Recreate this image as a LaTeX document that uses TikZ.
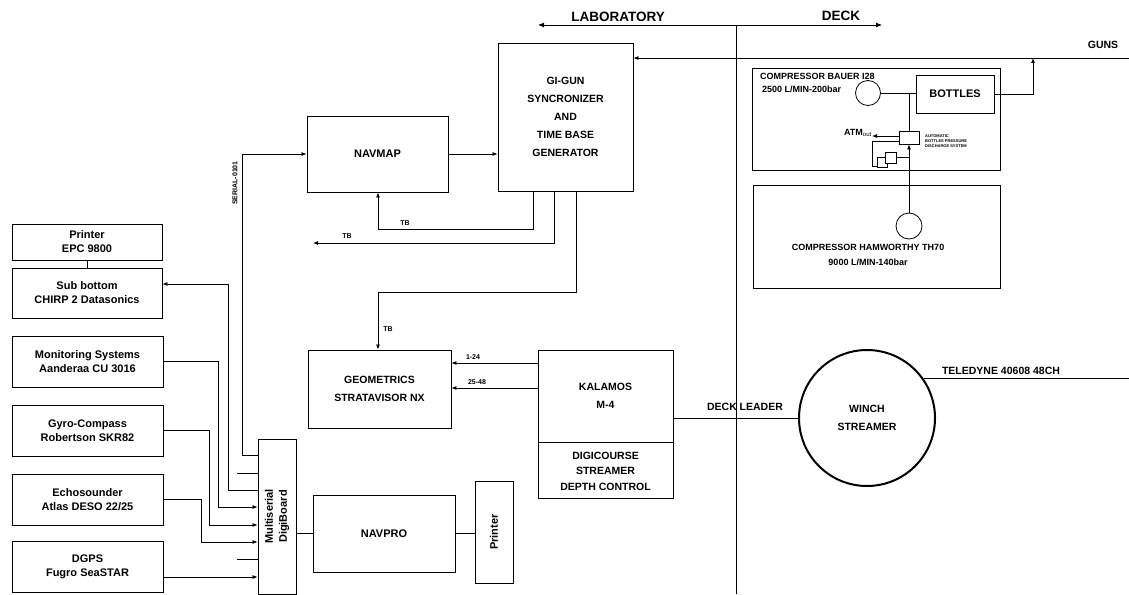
\documentclass[tikz,border=0pt]{standalone}
\usepackage{fontspec}
\setmainfont{Liberation Sans}
\usetikzlibrary{arrows.meta,positioning}

\begin{document}
\begin{tikzpicture}[x=1pt,y=-1pt,
  box/.style={draw,line width=0.9pt,inner sep=0pt,align=center,font=\bfseries\fontsize{11}{14}\selectfont},
  tall/.style={font=\bfseries\fontsize{10.5}{18}\selectfont},
  lbl/.style={inner sep=0pt,font=\bfseries\fontsize{7}{8}\selectfont},
  deck/.style={inner sep=0pt,align=center,font=\bfseries\fontsize{9}{15}\selectfont},
  big/.style={inner sep=0pt,font=\bfseries\fontsize{10.5}{12}\selectfont},
  wire/.style={line width=0.8pt},
  arr/.style={-{Latex[length=5pt,width=4pt]}}]
\useasboundingbox (0,0) rectangle (1129,594);

% laboratory / deck
\coordinate (labend) at (538,25);
\coordinate (deckend) at (882,25);
\coordinate (divtop) at (736,25);
\coordinate (divbot) at (736,594);
\draw[wire,{Latex[length=6pt,width=5pt]}-{Latex[length=6pt,width=5pt]}] (labend) -- (deckend);
\draw[wire] (divtop) -- (divbot);
\node[font=\bfseries\fontsize{13.5}{14}\selectfont] (lab) at (618,17) {LABORATORY};
\node[font=\bfseries\fontsize{13.5}{14}\selectfont] (deck) at (841,16) {DECK};

% left column
\node[box,minimum width=150,minimum height=36] (printer) at (87,242) {Printer\\EPC 9800};
\node[box,minimum width=150,minimum height=50] (subbot) at (87,293) {Sub bottom\\CHIRP 2 Datasonics};
\foreach \nm/\ypos/\txt in {monitor/361.5/{Monitoring Systems\\Aanderaa CU 3016},
    gyro/430.5/{Gyro-Compass\\Robertson SKR82},
    echo/499.5/{Echosounder\\Atlas DESO 22/25},
    dgps/567/{DGPS\\Fugro SeaSTAR}}
  { \node[box,minimum width=151,minimum height=51] (\nm) at (87.5,\ypos) {\txt}; }
\draw[wire] (printer) -- (subbot);

% digiboard, navpro
\node[box,minimum width=38,minimum height=155] (digi) at (277,516.5) {};
\node[box,draw=none,rotate=90] (digitxt) at (digi.center) {Multiserial\\DigiBoard};
\node[box,minimum width=142,minimum height=77] (navpro) at (384,533.5) {NAVPRO};
\node[box,minimum width=38,minimum height=102] (printb) at (494,532) {};
\node[box,draw=none,rotate=90] (printbtxt) at (printb.center) {Printer};
\draw[wire] (navpro.west) -- (navpro.west -| digi.east);
\draw[wire] (navpro.east) -- (navpro.east -| printb.west);

\draw[wire,arr] (monitor.east) -| (218,507) -- (digi.west |- 0,507);
\draw[wire,arr] (gyro.east) -| (209,525) -- (digi.west |- 0,525);
\draw[wire,arr] (echo.east) -| (201,542) -- (digi.west |- 0,542);
\draw[wire,arr] (dgps.east |- 0,577) -- (digi.west |- 0,577);
\foreach \ypos in {473,559}
  { \draw[wire] (237,\ypos) -- (digi.west |- 0,\ypos); }
\draw[wire,arr] (digi.west |- 0,490) -| (228,284) -- (subbot.east |- 0,284);

% navmap and gi-gun
\node[box,minimum width=141,minimum height=76] (navmap) at (377.5,154) {NAVMAP};
\node[box,tall,minimum width=135,minimum height=148] (gigun) at (565.5,117) {GI-GUN\\SYNCRONIZER\\AND\\TIME BASE\\GENERATOR};
\draw[wire,arr] (digi.west |- 0,455) -| (242,154) -- (navmap.west);
\node[lbl,rotate=90] (serial) at (235,183) {SERIAL-0101};
\draw[wire,arr] (navmap.east) -- (navmap.east -| gigun.west);

\coordinate (gunsend) at (1129,58);
\draw[wire,arr] (gunsend) -- (gigun.east |- gunsend);
\node[big] (guns) at (1103,45) {GUNS};

% time base lines
\draw[wire,arr] (gigun.south -| 533,0) |- (378,229) -- (navmap.south -| 378,0);
\node[lbl] (tb1) at (405,223) {TB};
\draw[wire,arr] (gigun.south -| 554,0) |- (313,243);
\node[lbl] (tb2) at (347,236) {TB};

% seismic
\node[box,tall,minimum width=143,minimum height=78] (geom) at (379.5,389) {GEOMETRICS\\STRATAVISOR NX};
\node[box,tall,minimum width=135,minimum height=92] (kalamos) at (605.5,396) {KALAMOS\\M-4};
\node[box,font=\bfseries\fontsize{10.5}{15.5}\selectfont,minimum width=135,minimum height=56,below=0pt of kalamos] (digic) {DIGICOURSE\\STREAMER\\DEPTH CONTROL};
\draw[wire,arr] (gigun.south -| 576,0) |- (378,292) -- (geom.north -| 378,0);
\node[lbl] (tb3) at (388,329) {TB};
\draw[wire,arr] (kalamos.west |- 0,363) -- (geom.east |- 0,363);
\node[lbl] (ch1) at (473,357) {1-24};
\draw[wire,arr] (kalamos.west |- 0,388) -- (geom.east |- 0,388);
\node[lbl] (ch2) at (477,382) {25-48};

% winch
\node[draw,circle,line width=2pt,minimum size=136,align=center,font=\bfseries\fontsize{10.5}{18}\selectfont] (winch) at (867,418) {WINCH\\STREAMER};
\draw[wire] (kalamos.east |- winch.west) -- (winch.west);
\node[big] (leader) at (745,407) {DECK LEADER};
\coordinate (tedge) at (1129,380);
\draw[wire] (winch.35) -- (winch.35 -| tedge);
\node[big] (teledyne) at (1001,371) {TELEDYNE 40608 48CH};

% compressor bauer
\node[box,minimum width=248,minimum height=102] (bauerbox) at (876,119) {};
\node[deck,anchor=west] (bauertxt) at (760,76) {COMPRESSOR BAUER I28};
\node[deck,anchor=west] (bauerrate) at (762,89) {2500 L/MIN-200bar};
\node[draw,circle,line width=0.8pt,minimum size=25,inner sep=0pt] (bauerc) at (868,93) {};
\node[box,minimum width=78,minimum height=38] (bottles) at (955,94) {BOTTLES};
\draw[wire] (bauerc.east) -- (bottles.west |- bauerc.east);
\draw[wire,arr] (bottles.east) -| (gunsend -| 1033,0);
\node[draw,line width=0.8pt,minimum width=20,minimum height=13,inner sep=0pt] (valve) at (909,137.5) {};
\draw[wire] (valve.north |- bauerc.east) -- (valve.north);
\node[deck,anchor=east] (atm) at (872,133) {ATM$_{\mathrm{out}}$};
\draw[wire,arr] (valve.west |- 0,136) -- (atm.east |- 0,136);
\node[anchor=west,inner sep=0pt,align=left,font=\bfseries\fontsize{4}{5}\selectfont] (autotxt) at (925,141) {AUTOMATIC\\BOTTLES PRESSURE\\DISCHARGE SYSTEM};
\draw[wire] (valve.west |- 0,141) -| (872,166) -- (877,166);
\node[draw,line width=0.8pt,fill=white,minimum size=10,inner sep=0pt] (sqb) at (882.5,162.5) {};
\node[draw,line width=0.8pt,fill=white,minimum size=11,inner sep=0pt] (sqa) at (891,157.5) {};
\draw[wire] (sqa.east) -- (sqa.east -| valve.south);

% compressor hamworthy
\node[box,minimum width=247,minimum height=103] (hambox) at (876.5,236.5) {};
\node[draw,circle,line width=0.8pt,minimum size=26,inner sep=0pt] (hamc) at (909,226) {};
\node[deck] (hamtxt) at (868,255) {COMPRESSOR HAMWORTHY TH70\\9000 L/MIN-140bar};
\draw[wire,arr] (hamc.north) -- (valve.south);
\end{tikzpicture}
\end{document}
